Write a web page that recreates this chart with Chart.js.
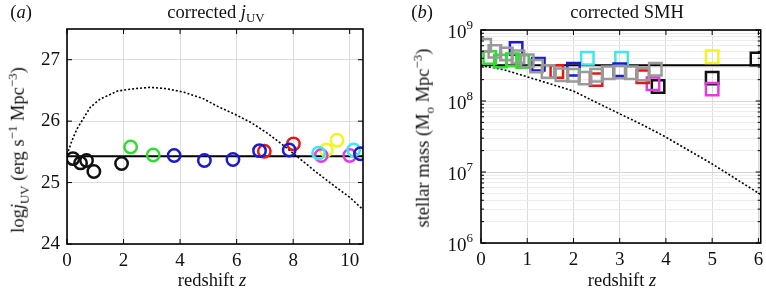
<!DOCTYPE html>
<html><head><meta charset="utf-8">
<script src="https://cdn.jsdelivr.net/npm/chart.js@4/dist/chart.umd.min.js"></script>
<style>
body{margin:0;background:#fff;width:766px;height:295px;position:relative;overflow:hidden;font-family:"Liberation Serif",serif;}
canvas{position:absolute;top:0}
.t{position:absolute;font-size:18.5px;white-space:nowrap;transform:translate(-50%,-50%);color:#111;line-height:1}
.r{transform:translate(-50%,-50%) rotate(-90deg)}
sub,sup{font-size:0.7em;line-height:0}
</style></head><body>
<canvas id="c1" width="380" height="295" style="left:0"></canvas>
<canvas id="c2" width="392" height="295" style="left:380px"></canvas>
<div class="t" style="left:21px;top:12px">(<i>a</i>)</div>
<div class="t" style="left:216px;top:12px">corrected <i>j</i><sub>UV</sub></div>
<div class="t r" style="left:18px;top:150px">log<i>j</i><sub>UV</sub> (erg s<sup>−1</sup> Mpc<sup>−3</sup>)</div>
<div class="t" style="left:212px;top:280px">redshift <i>z</i></div>
<div class="t" style="left:422px;top:12px">(<i>b</i>)</div>
<div class="t" style="left:627px;top:12px">corrected SMH</div>
<div class="t r" style="left:423px;top:138px">stellar mass (M<sub>o</sub> Mpc<sup>−3</sup>)</div>
<div class="t" style="left:622px;top:280px">redshift <i>z</i></div>
<script>
// ---- panel (a): corrected j_UV ----
const jBlackZ = [0.21, 0.48, 0.69, 0.95, 1.93];
const jBlackV = [25.39, 25.32, 25.36, 25.18, 25.31];
const jGreenZ = [2.25, 3.05];
const jGreenV = [25.58, 25.45];
const jBlueZ = [3.79, 4.86, 5.87, 6.81, 7.86, 10.38];
const jBlueV = [25.44, 25.36, 25.375, 25.52, 25.53, 25.47];
const jRedZ = [6.98, 8.01];
const jRedV = [25.51, 25.63];
const jCyanZ = [8.90, 10.14];
const jCyanV = [25.48, 25.53];
const jYellowZ = [9.17, 9.55];
const jYellowV = [25.53, 25.69];
const jMagentaZ = [8.99, 10.00];
const jMagentaV = [25.44, 25.44];
const jFitZ = [0, 10.47];
const jFitV = [25.43, 25.43];
const jCurveZ = [0.0, 0.18, 0.36, 0.83, 1.18, 1.78, 2.4, 2.96, 3.5, 4.14, 4.8, 5.33, 5.9, 6.5, 7.1, 7.7, 8.28, 8.9, 9.47, 10.0, 10.47];
const jCurveV = [25.45, 25.69, 25.88, 26.23, 26.36, 26.49, 26.53, 26.55, 26.53, 26.47, 26.37, 26.24, 26.12, 25.98, 25.80, 25.59, 25.37, 25.14, 24.94, 24.76, 24.56];
const jXTicks = [0, 2, 4, 6, 8, 10];
const jYTicks = [24, 25, 26, 27];

// ---- panel (b): corrected SMH ----
const sGrayZ = [0.08, 0.3, 0.55, 0.8, 1.0, 1.2, 1.45, 1.75, 2.0, 2.25, 2.5, 2.75, 3.0, 3.25, 3.5, 3.77];
const sGrayV = [6.1e8, 5.0e8, 4.6e8, 4.2e8, 3.7e8, 3.1e8, 2.6e8, 2.35e8, 2.3e8, 2.1e8, 2.3e8, 2.5e8, 2.55e8, 2.5e8, 2.4e8, 2.8e8];
const sGreenZ = [0.19, 0.42, 0.68, 0.9];
const sGreenV = [4.1e8, 3.65e8, 3.8e8, 3.6e8];
const sBlueZ = [0.76, 1.24, 2.0, 3.0];
const sBlueV = [5.5e8, 3.3e8, 2.8e8, 2.75e8];
const sRedZ = [1.64, 2.49, 3.5];
const sRedV = [2.6e8, 2.0e8, 2.2e8];
const sCyanZ = [2.3, 3.04];
const sCyanV = [4.0e8, 4.0e8];
const sMagentaZ = [3.72, 5.0];
const sMagentaV = [1.75e8, 1.47e8];
const sBlackZ = [3.83, 5.0, 5.97];
const sBlackV = [1.6e8, 2.1e8, 3.9e8];
const sYellowZ = [5.0];
const sYellowV = [4.2e8];
const sFitZ = [0, 6.1];
const sFitV = [3.2e8, 3.2e8];
const sCurveZ = [0, 0.5, 1, 1.5, 2, 2.5, 3, 3.5, 4, 4.5, 5, 5.5, 6.1];
const sCurveV = [3.16e8, 2.75e8, 2.19e8, 1.74e8, 1.38e8, 9.5e7, 6.6e7, 4.6e7, 3.1e7, 2.0e7, 1.3e7, 8.1e6, 4.6e6];
const sXTicks = [0, 1, 2, 3, 4, 5, 6];
const sYExp = [6, 7, 8, 9];

const FONT = {family: '"Liberation Serif", serif', size: 19};
const pts = (zs, vs) => zs.map((z, i) => ({x: z, y: vs[i]}));
const marker = (zs, vs, color, style, r) => ({
  type: 'scatter', data: pts(zs, vs), pointStyle: style, pointRadius: r, pointHoverRadius: r,
  borderColor: color, backgroundColor: 'rgba(0,0,0,0)', pointBorderWidth: 2.5, order: 1
});
const line = (zs, vs, dash) => ({
  type: 'line', data: pts(zs, vs), borderColor: '#000', borderWidth: dash ? 1.6 : 2,
  borderDash: dash ? [2, 2] : [], pointRadius: 0, tension: 0, fill: false, order: dash ? 3 : 2
});

const frame = {
  id: 'frame',
  afterDatasetsDraw(chart) {
    const {ctx, chartArea: a, scales} = chart;
    ctx.save();
    ctx.strokeStyle = '#000';
    ctx.lineWidth = 1;
    scales.x.ticks.forEach(t => {
      const px = scales.x.getPixelForValue(t.value);
      ctx.beginPath();
      ctx.moveTo(px, a.bottom); ctx.lineTo(px, a.bottom - 5);
      ctx.moveTo(px, a.top); ctx.lineTo(px, a.top + 5);
      ctx.stroke();
    });
    scales.y.ticks.forEach(t => {
      const py = scales.y.getPixelForValue(t.value);
      const major = chart.options.scales.y.type !== 'logarithmic' || Math.abs(Math.log10(t.value) - Math.round(Math.log10(t.value))) < 1e-6;
      const len = major ? 5 : 3;
      ctx.beginPath();
      ctx.moveTo(a.left, py); ctx.lineTo(a.left + len, py);
      ctx.moveTo(a.right, py); ctx.lineTo(a.right - len, py);
      ctx.stroke();
    });
    ctx.lineWidth = 1.6;
    ctx.strokeRect(a.left, a.top, a.right - a.left, a.bottom - a.top);
    ctx.restore();
  }
};

const powLabels = {
  id: 'powLabels',
  afterDraw(chart) {
    if (chart.canvas.id !== 'c2') return;
    const {ctx, chartArea: a, scales} = chart;
    ctx.save();
    ctx.fillStyle = '#111';
    sYExp.forEach(e => {
      const py = scales.y.getPixelForValue(Math.pow(10, e));
      const right = a.left - 8;
      ctx.font = '13px "Liberation Serif", serif';
      const ew = ctx.measureText(String(e)).width;
      ctx.textBaseline = 'middle';
      ctx.textAlign = 'left';
      ctx.fillText(String(e), right - ew, py - 4);
      ctx.font = '19px "Liberation Serif", serif';
      ctx.textAlign = 'right';
      ctx.fillText('10', right - ew, py + 3);
    });
    ctx.restore();
  }
};

Chart.defaults.font = FONT;
Chart.defaults.color = '#111';

new Chart(document.getElementById('c1'), {
  data: {datasets: [
    line(jCurveZ, jCurveV, true),
    line(jFitZ, jFitV, false),
    marker(jBlackZ, jBlackV, '#111111', 'circle', 6.2),
    marker(jGreenZ, jGreenV, '#2fdc2f', 'circle', 6.2),
    marker(jBlueZ, jBlueV, '#1a1ad0', 'circle', 6.2),
    marker(jRedZ, jRedV, '#e41818', 'circle', 6.2),
    marker(jCyanZ, jCyanV, '#40e8ea', 'circle', 6.2),
    marker(jMagentaZ, jMagentaV, '#e03ce0', 'circle', 6.2),
    marker(jYellowZ, jYellowV, '#f4f41e', 'circle', 6.2)
  ]},
  options: {
    responsive: false, animation: false, devicePixelRatio: 1,
    layout: {padding: {top: 29, right: 17, left: 0, bottom: 0}},
    plugins: {legend: {display: false}, tooltip: {enabled: false}},
    scales: {
      x: {type: 'linear', min: 0, max: 10.47,
        afterBuildTicks: s => { s.ticks = jXTicks.map(v => ({value: v})); },
        afterFit: s => { s.height = 51; },
        grid: {color: '#dcdcdc', lineWidth: 1, drawTicks: false},
        border: {display: false},
        ticks: {padding: 6, font: FONT, maxRotation: 0, autoSkip: false}
      },
      y: {type: 'linear', min: 24, max: 27.5,
        afterBuildTicks: s => { s.ticks = jYTicks.map(v => ({value: v})); },
        afterFit: s => { s.width = 67; },
        grid: {color: '#dcdcdc', lineWidth: 1, drawTicks: false},
        border: {display: false},
        ticks: {padding: 7, font: FONT, autoSkip: false}
      }
    }
  },
  plugins: [frame]
});

new Chart(document.getElementById('c2'), {
  data: {datasets: [
    line(sCurveZ, sCurveV, true),
    line(sFitZ, sFitV, false),
    marker(sGrayZ, sGrayV, '#9a9a9a', 'rect', 8.8),
    marker(sGreenZ, sGreenV, '#2fdc2f', 'rect', 8.8),
    marker(sBlueZ, sBlueV, '#1a1ad0', 'rect', 8.8),
    marker(sRedZ, sRedV, '#e41818', 'rect', 8.8),
    marker(sCyanZ, sCyanV, '#40e8ea', 'rect', 8.8),
    marker(sMagentaZ, sMagentaV, '#e03ce0', 'rect', 8.8),
    marker(sBlackZ, sBlackV, '#111111', 'rect', 8.8),
    marker(sYellowZ, sYellowV, '#f4f41e', 'rect', 8.8)
  ]},
  options: {
    responsive: false, animation: false, devicePixelRatio: 1,
    layout: {padding: {top: 30, right: 7, left: 0, bottom: 0}},
    plugins: {legend: {display: false}, tooltip: {enabled: false}},
    scales: {
      x: {type: 'linear', min: 0, max: 6.05,
        afterBuildTicks: s => { s.ticks = sXTicks.map(v => ({value: v})); },
        afterFit: s => { s.height = 52; },
        grid: {color: '#dcdcdc', lineWidth: 1, drawTicks: false},
        border: {display: false},
        ticks: {padding: 6, font: FONT, maxRotation: 0, autoSkip: false}
      },
      y: {type: 'logarithmic', min: 1e6, max: 1e9,
        afterBuildTicks: s => {
          const t = [];
          for (let e = 6; e <= 8; e++) for (let m = 1; m <= 9; m++) t.push({value: m * Math.pow(10, e)});
          t.push({value: 1e9});
          s.ticks = t;
        },
        afterFit: s => { s.width = 101; },
        grid: {
          color: c => {
            const v = c.tick ? c.tick.value : 1;
            const l = Math.log10(v);
            return Math.abs(l - Math.round(l)) < 1e-6 ? '#d6d6d6' : '#ececec';
          },
          lineWidth: 1, drawTicks: false
        },
        border: {display: false},
        ticks: {display: false, autoSkip: false}
      }
    }
  },
  plugins: [frame, powLabels]
});
</script>
</body></html>
